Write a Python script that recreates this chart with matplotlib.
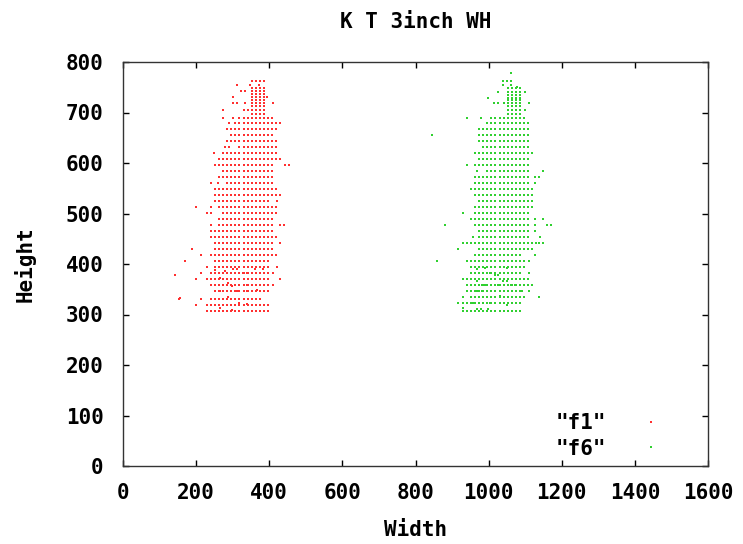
import numpy as np
import matplotlib
matplotlib.use("Agg")
import matplotlib.pyplot as plt
from matplotlib.lines import Line2D

# ---------------- data ----------------
# grid spacing of the measurements
x_step = 11.2
red_x0 = 229.0
green_x0 = 929.0

# series "f1" (red): rows of contiguous grid points  y, x_lo, x_hi
red_row_y = [763, 749, 743, 737, 731, 724, 718, 712, 704, 698, 690, 679, 667, 655, 643,
             632, 620, 608, 596, 584, 572, 560, 548, 536, 524, 513, 501,
             489, 477, 465, 453, 441, 429, 417, 405, 394, 382, 370, 358,
             346, 331, 318, 306]
red_row_lo = [347, 347, 347, 347, 347, 347, 347, 347, 334, 347, 322, 311, 289, 300, 289,
              322, 273, 261, 250, 273, 261, 289, 250, 250, 250, 261, 273,
              261, 261, 240, 240, 250, 250, 240, 250, 250, 240, 229, 240,
              250, 240, 229, 229]
red_row_hi = [383, 383, 383, 383, 383, 383, 383, 383, 383, 383, 411, 429, 420, 411, 420,
              420, 420, 429, 411, 411, 411, 411, 420, 429, 393, 420, 420,
              411, 411, 411, 420, 411, 411, 420, 393, 393, 393, 393, 393,
              393, 375, 393, 393]
# isolated red points
red_out_x = [311, 347, 371, 322, 334, 300, 393, 300, 311, 334, 409, 273, 273, 300,
             289, 279, 289, 250, 443, 454, 240, 261, 420, 201, 240, 229, 240,
             240, 429, 440, 429, 190, 213, 170, 229, 420, 213, 409, 201, 429,
             409, 153, 213, 201, 142, 156,
             252, 279, 302, 311, 327, 338, 361, 384, 265, 288, 297, 338, 265,
             311, 338, 366, 288, 316, 338, 265, 297]
red_out_y = [755, 755, 755, 743, 743, 731, 731, 718, 718, 718, 718, 704, 690, 690,
             679, 632, 632, 620, 596, 596, 560, 560, 524, 513, 513, 501, 501,
             477, 477, 477, 441, 429, 417, 405, 394, 394, 382, 382, 370, 370,
             358, 331, 331, 318, 378, 333,
             389, 386, 391, 391, 382, 382, 391, 391, 372, 362, 356, 359, 346,
             346, 346, 349, 334, 323, 321, 313, 309]

# series "f6" (green)
green_row_y = [740, 748, 735, 728, 724, 719, 712, 705, 698, 690, 679, 667, 655, 643,
               631, 620, 608, 596, 584, 572, 560, 548, 536, 524, 513, 501,
               489, 477, 465, 453, 441, 429, 417, 405, 394, 382, 370, 358,
               346, 334, 322, 306]
green_row_lo = [1049, 1049, 1049, 1049, 1049, 1038, 1049, 1049, 1049, 1004, 999, 979, 979, 979,
                985, 967, 979, 967, 999, 967, 967, 956, 967, 979, 967, 967,
                956, 967, 979, 979, 956, 979, 967, 944, 956, 956, 956, 940,
                956, 956, 940, 929]
green_row_hi = [1090, 1090, 1090, 1090, 1090, 1090, 1090, 1090, 1090, 1099, 1110, 1110, 1110, 1110,
                1110, 1122, 1110, 1110, 1110, 1110, 1110, 1122, 1122, 1122, 1122, 1110,
                1110, 1110, 1110, 1110, 1127, 1122, 1090, 1099, 1099, 1090, 1110, 1122,
                1090, 1099, 1090, 1090]
green_out_x = [1061, 1038, 1049, 1061, 1038, 1061, 1077, 1027, 1099, 999, 1016, 1027,
               1110, 1099, 940, 979, 846, 940, 967, 1148, 1127, 1138, 1127, 929,
               1127, 1148, 881, 1127, 1159, 1171, 1127, 956, 1141, 929, 940, 1139,
               1150, 917, 1127, 858, 1110, 1110, 929, 940, 940, 1110, 929, 1138,
               917, 929, 929,
               967, 990, 1004, 1017, 1027, 1049, 1063, 967, 981, 990, 1027, 1040,
               1049, 1061, 1072, 1090, 967, 981, 1031, 1004, 958, 967, 979, 999,
               1049, 1065]
green_out_y = [778, 763, 763, 763, 755, 755, 750, 740, 740, 728, 719, 719,
               719, 705, 690, 690, 655, 596, 584, 584, 572, 572, 560, 501,
               489, 489, 477, 477, 477, 477, 465, 453, 453, 441, 441, 441,
               441, 429, 417, 405, 405, 382, 370, 370, 346, 346, 334, 334,
               322, 322, 313,
               391, 392, 382, 379, 379, 392, 382, 367, 358, 358, 358, 367,
               367, 358, 358, 346, 346, 346, 336, 323, 323, 310, 310, 310,
               319, 346]

series_names = ['"f1"', '"f6"']
x_ticks = [0, 200, 400, 600, 800, 1000, 1200, 1400, 1600]
y_ticks = [0, 100, 200, 300, 400, 500, 600, 700, 800]


def build(x0, ys, los, his, ox, oy):
    xs_all, ys_all = [], []
    for y, lo, hi in zip(ys, los, his):
        k0 = int(round((lo - x0) / x_step))
        k1 = int(round((hi - x0) / x_step))
        for k in range(k0, k1 + 1):
            xs_all.append(x0 + k * x_step)
            ys_all.append(y)
    xs_all += list(ox)
    ys_all += list(oy)
    return np.array(xs_all), np.array(ys_all)


rx, ry = build(red_x0, red_row_y, red_row_lo, red_row_hi, red_out_x, red_out_y)
gx, gy = build(green_x0, green_row_y, green_row_lo, green_row_hi, green_out_x, green_out_y)

# ---------------- plot ----------------
W, H = 743, 544
fig = plt.figure(figsize=(W / 100, H / 100), dpi=100)
L, R, T, B = 123, 708, 62, 466
ax = fig.add_axes([L / W, 1 - B / H, (R - L) / W, (B - T) / H])

FS = 15
font = {"family": "DejaVu Sans Mono", "weight": "bold", "size": FS}

red = "#ff3030"
green = "#30d030"
MS = 1.6
ax.plot(rx, ry, linestyle="none", marker="s", ms=MS, mew=0, color=red)
ax.plot(gx, gy, linestyle="none", marker="s", ms=MS, mew=0, color=green)

ax.set_xlim(0, 1600)
ax.set_ylim(0, 800)
ax.set_xticks(x_ticks)
ax.set_yticks(y_ticks)
ax.set_xticklabels([str(v) for v in x_ticks], fontdict=font)
ax.set_yticklabels([str(v) for v in y_ticks], fontdict=font)
ax.tick_params(axis="both", direction="in", length=4, width=1, top=True, right=True)
ax.tick_params(axis="y", pad=14)
ax.tick_params(axis="x", pad=12)
for s in ax.spines.values():
    s.set_linewidth(1.0)
    s.set_color("#333333")

fig.text((L + R) / 2 / W, 1 - 22 / H, "K T 3inch WH", ha="center", va="center",
         family="DejaVu Sans Mono", weight="bold", size=FS)

ax.set_xlabel("Width", fontdict=font)
ax.xaxis.label.set_va("center")
ax.xaxis.set_label_coords(0.5, (B - 530) / (B - T))
ax.set_ylabel("Height", fontdict=font)
ax.yaxis.label.set_va("center")
ax.yaxis.set_label_coords((25 - L) / (R - L), 0.5)

handles = [Line2D([], [], linestyle="none", marker="s", ms=MS, mew=0, color=red),
           Line2D([], [], linestyle="none", marker="s", ms=MS, mew=0, color=green)]
leg = ax.legend(handles, series_names, loc="lower right", markerfirst=False,
                frameon=False, prop=dict(family="DejaVu Sans Mono", weight="bold", size=FS),
                handlelength=1.0, handletextpad=1.65, labelspacing=0.25,
                borderaxespad=0, borderpad=0.4,
                bbox_to_anchor=((670 - L) / (R - L), (B - 467) / (B - T)))

fig.savefig("out.png", dpi=100)
